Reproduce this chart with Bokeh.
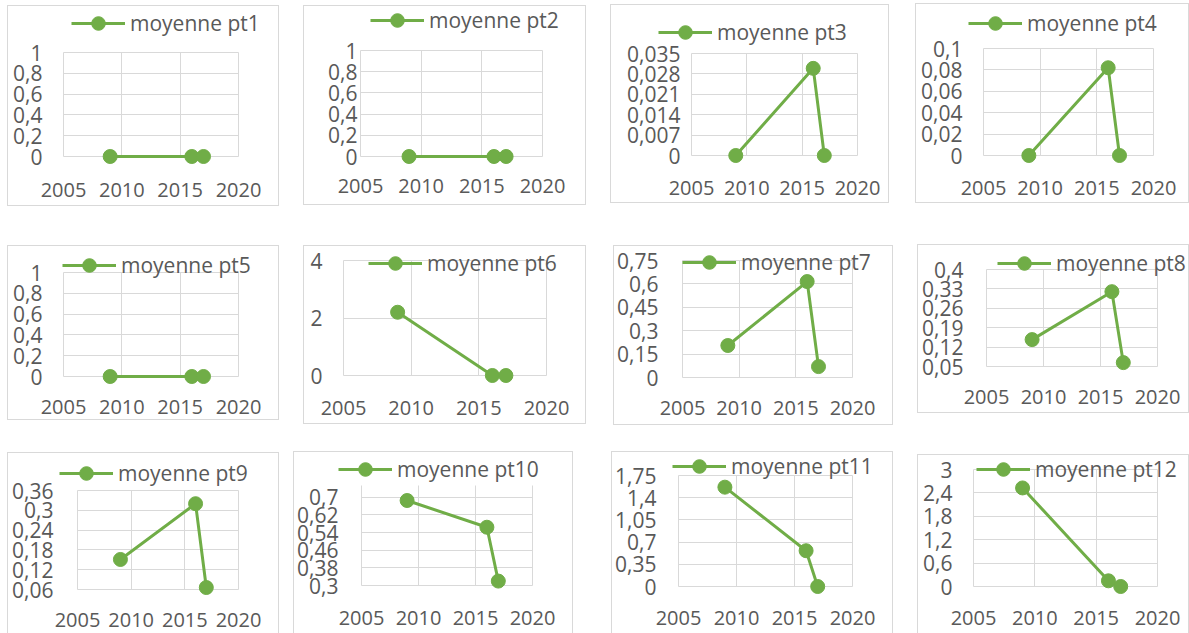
from bokeh.plotting import figure
from bokeh.models import Range1d, FixedTicker, Legend, LegendItem, Spacer
from bokeh.layouts import row, column
from bokeh.embed import file_html
from bokeh.resources import INLINE

# ---------------- data ----------------
years = [2009, 2016, 2017]
x_tick_labels = ["2005", "2010", "2015", "2020"]
series_names = ["moyenne pt1", "moyenne pt2", "moyenne pt3", "moyenne pt4",
                "moyenne pt5", "moyenne pt6", "moyenne pt7", "moyenne pt8",
                "moyenne pt9", "moyenne pt10", "moyenne pt11", "moyenne pt12"]

pt1 = [0.0, 0.0, 0.0]
pt2 = [0.0, 0.0, 0.0]
pt3 = [0.0, 0.0299, 0.0]
pt4 = [0.0, 0.082, 0.0]
pt5 = [0.0, 0.0, 0.0]
pt6 = [2.2, 0.0, 0.0]
pt7 = [0.205, 0.615, 0.07]
pt8 = [0.147, 0.32, 0.064]
pt9 = [0.151, 0.32, 0.066]
pt10 = [0.685, 0.564, 0.32]
pt11 = [1.566, 0.564, 0.0]
pt12 = [2.527, 0.146, 0.0]
series_values = [pt1, pt2, pt3, pt4, pt5, pt6, pt7, pt8, pt9, pt10, pt11, pt12]

yticks_pt1 = ["0", "0,2", "0,4", "0,6", "0,8", "1"]
yticks_pt2 = ["0", "0,2", "0,4", "0,6", "0,8", "1"]
yticks_pt3 = ["0", "0,007", "0,014", "0,021", "0,028", "0,035"]
yticks_pt4 = ["0", "0,02", "0,04", "0,06", "0,08", "0,1"]
yticks_pt5 = ["0", "0,2", "0,4", "0,6", "0,8", "1"]
yticks_pt6 = ["0", "2", "4"]
yticks_pt7 = ["0", "0,15", "0,3", "0,45", "0,6", "0,75"]
yticks_pt8 = ["0,05", "0,12", "0,19", "0,26", "0,33", "0,4"]
yticks_pt9 = ["0,06", "0,12", "0,18", "0,24", "0,3", "0,36"]
yticks_pt10 = ["0,3", "0,38", "0,46", "0,54", "0,62", "0,7"]
yticks_pt11 = ["0", "0,35", "0,7", "1,05", "1,4", "1,75"]
yticks_pt12 = ["0", "0,6", "1,2", "1,8", "2,4", "3"]
series_yticks = [yticks_pt1, yticks_pt2, yticks_pt3, yticks_pt4, yticks_pt5, yticks_pt6,
                 yticks_pt7, yticks_pt8, yticks_pt9, yticks_pt10, yticks_pt11, yticks_pt12]
# axis maximum where it is above the last labelled tick
y_axis_max = {9: 0.753}

# ---------------- layout / style ----------------
GREEN = "#70AD47"
TEXT = "#595959"
GRID = "#D9D9D9"
FONT = "Open Sans"
FS_X = "20px"
FS_Y = "21px"
FS_LEG = "21px"

# reference pixel geometry: panel box, plot area, legend glyph (left, centre y),
# y label right edge, x label centre y, row index
GEOM = [
    dict(box=(7, 5, 279, 206), frame=(63, 52, 238, 156), leg=(71, 23), yr=42, xl=190, row=0),
    dict(box=(303, 5, 586, 205), frame=(360, 50, 542, 156), leg=(370, 20), yr=357, xl=186, row=0),
    dict(box=(610, 4, 889, 203), frame=(691, 53, 857, 155), leg=(658, 32), yr=680, xl=188, row=0),
    dict(box=(915, 3, 1189, 203), frame=(983, 48, 1153, 155), leg=(968, 23), yr=962, xl=188, row=0),
    dict(box=(7, 245, 279, 420), frame=(63, 272, 238, 376), leg=(62, 265), yr=42, xl=407, row=1),
    dict(box=(303, 245, 586, 424), frame=(343, 260, 546, 375), leg=(368, 263), yr=322, xl=408, row=1),
    dict(box=(613, 245, 893, 425), frame=(682, 260, 852, 377), leg=(682, 262), yr=658, xl=408, row=1),
    dict(box=(917, 244, 1189, 413), frame=(986, 269, 1157, 366), leg=(997, 263), yr=963, xl=397, row=1),
    dict(box=(7, 452, 279, 640), frame=(77, 490, 238, 589), leg=(59, 473), yr=53, xl=620, row=2),
    dict(box=(293, 451, 573, 640), frame=(361, 485, 532, 585), leg=(338, 469), yr=338, xl=618, row=2),
    dict(box=(611, 451, 893, 640), frame=(678, 475, 852, 586), leg=(672, 466), yr=656, xl=618, row=2),
    dict(box=(917, 454, 1189, 640), frame=(973, 469, 1157, 586), leg=(976, 469), yr=952, xl=618, row=2),
]
ROW_DY = [0, 0, 0]
PX_MIN, PX_MAX, PY_MIN, PY_MAX = 0, 1189, 0, 633
LEG_H = 34
X_LABEL_CENTER = 8   # label top -> digit centre


def tick_value(s):
    return float(s.replace(",", "."))


def make_panel(i, g):
    dy = ROW_DY[g["row"]]
    L, T, R, B = g["box"]
    l, t, r, b = g["frame"]
    Lp, Rp = max(L, PX_MIN), min(R, PX_MAX)
    Tp, Bp = max(T + dy, PY_MIN), min(B + dy, PY_MAX)
    tp, bp = t + dy, b + dy
    W, H = Rp - Lp, Bp - Tp

    labels = series_yticks[i]
    yt = [tick_value(s) for s in labels]
    y0 = yt[0]
    y1 = y_axis_max.get(i, yt[-1])
    xt = [int(s) for s in x_tick_labels]
    x0, x1 = xt[0], xt[-1]

    kx = (r - l) / (x1 - x0)
    ky = (bp - tp) / (y1 - y0)
    xr = Range1d(x0 - (l - Lp) / kx, x1 + (Rp - r) / kx)
    yr = Range1d(y0 - (Bp - bp) / ky, y1 + (tp - Tp) / ky)

    p = figure(width=W, height=H, x_range=xr, y_range=yr, title=None,
               output_backend="svg", toolbar_location=None,
               min_border_left=0, min_border_right=0, min_border_top=0, min_border_bottom=0)
    p.outline_line_color = None
    p.border_fill_color = None
    p.background_fill_color = None

    sides = ["inset 1px 0 0 " + GRID, "inset 0 1px 0 " + GRID]
    if R <= PX_MAX:
        sides.append("inset -1px 0 0 " + GRID)
    if B + dy <= PY_MAX:
        sides.append("inset 0 -1px 0 " + GRID)
    p.styles = {"box-shadow": ", ".join(sides)}

    # axes, drawn at the edges of the plot area
    p.xaxis.ticker = FixedTicker(ticks=xt)
    p.xaxis.major_label_overrides = {v: s for v, s in zip(xt, x_tick_labels)}
    p.yaxis.ticker = FixedTicker(ticks=yt)
    p.yaxis.major_label_overrides = {v: s for v, s in zip(yt, labels)}
    p.xaxis.fixed_location = y0
    p.yaxis.fixed_location = x0
    p.xaxis.bounds = (x0, x1)
    p.yaxis.bounds = (y0, y1)
    for ax in (p.xaxis[0], p.yaxis[0]):
        ax.major_tick_line_color = None
        ax.minor_tick_line_color = None
        ax.major_tick_out = 0
        ax.major_tick_in = 0
        ax.axis_line_color = None
        ax.major_label_text_font = FONT
        ax.major_label_text_color = TEXT
    p.xaxis.major_label_text_font_size = FS_X
    p.yaxis.major_label_text_font_size = FS_Y
    p.yaxis.major_label_standoff = max(0, l - g["yr"])
    p.xaxis.major_label_standoff = int(max(0, (g["xl"] + dy - bp) - X_LABEL_CENTER))

    # grid restricted to the plot area (its bottom line doubles as the x axis line)
    p.xgrid.grid_line_color = GRID
    p.ygrid.grid_line_color = GRID
    p.xgrid.bounds = (x0 - 0.01, x1 + 0.01)
    p.xgrid.cross_bounds = (y0, y1)
    eps = (y1 - y0) * 0.001
    p.ygrid.bounds = (y0 - eps, yt[-1] + eps)
    p.ygrid.cross_bounds = (x0, x1)

    vals = series_values[i]
    rl = p.line(years, vals, line_color=GREEN, line_width=3)
    rs = p.scatter(years, vals, size=14, fill_color=GREEN, line_color=GREEN)

    gx, gy = g["leg"]
    vx = gx - Lp
    vy = (Bp - (gy + dy)) - LEG_H / 2
    legend = Legend(items=[LegendItem(label=series_names[i], renderers=[rl, rs])],
                    location=(vx, vy), padding=0, margin=0, spacing=0,
                    border_line_color=None, background_fill_alpha=0,
                    glyph_width=54, glyph_height=LEG_H, label_height=LEG_H,
                    label_standoff=5, label_text_font=FONT, label_text_font_size=FS_LEG,
                    label_text_color=TEXT)
    p.add_layout(legend, "center")
    return p, (Lp, Tp, Rp, Bp)


panels = [make_panel(i, g) for i, g in enumerate(GEOM)]

rows_out = []
prev_bottom = PY_MIN
for ri in range(3):
    items = [(p, bx) for (p, bx), g in zip(panels, GEOM) if g["row"] == ri]
    items.sort(key=lambda it: it[1][0])
    row_top = min(bx[1] for _, bx in items)
    children = []
    x_cursor = PX_MIN
    row_bottom = row_top
    for p, (Lp, Tp, Rp, Bp) in items:
        if Lp > x_cursor:
            children.append(Spacer(width=Lp - x_cursor, height=1))
        if Tp > row_top:
            children.append(column(Spacer(width=Rp - Lp, height=Tp - row_top), p))
        else:
            children.append(p)
        x_cursor = Rp
        row_bottom = max(row_bottom, Bp)
    if row_top > prev_bottom:
        rows_out.append(Spacer(width=10, height=row_top - prev_bottom))
    rows_out.append(row(*children))
    prev_bottom = row_bottom

layout = column(*rows_out)

with open("out.html", "w") as f:
    f.write(file_html(layout, INLINE))
